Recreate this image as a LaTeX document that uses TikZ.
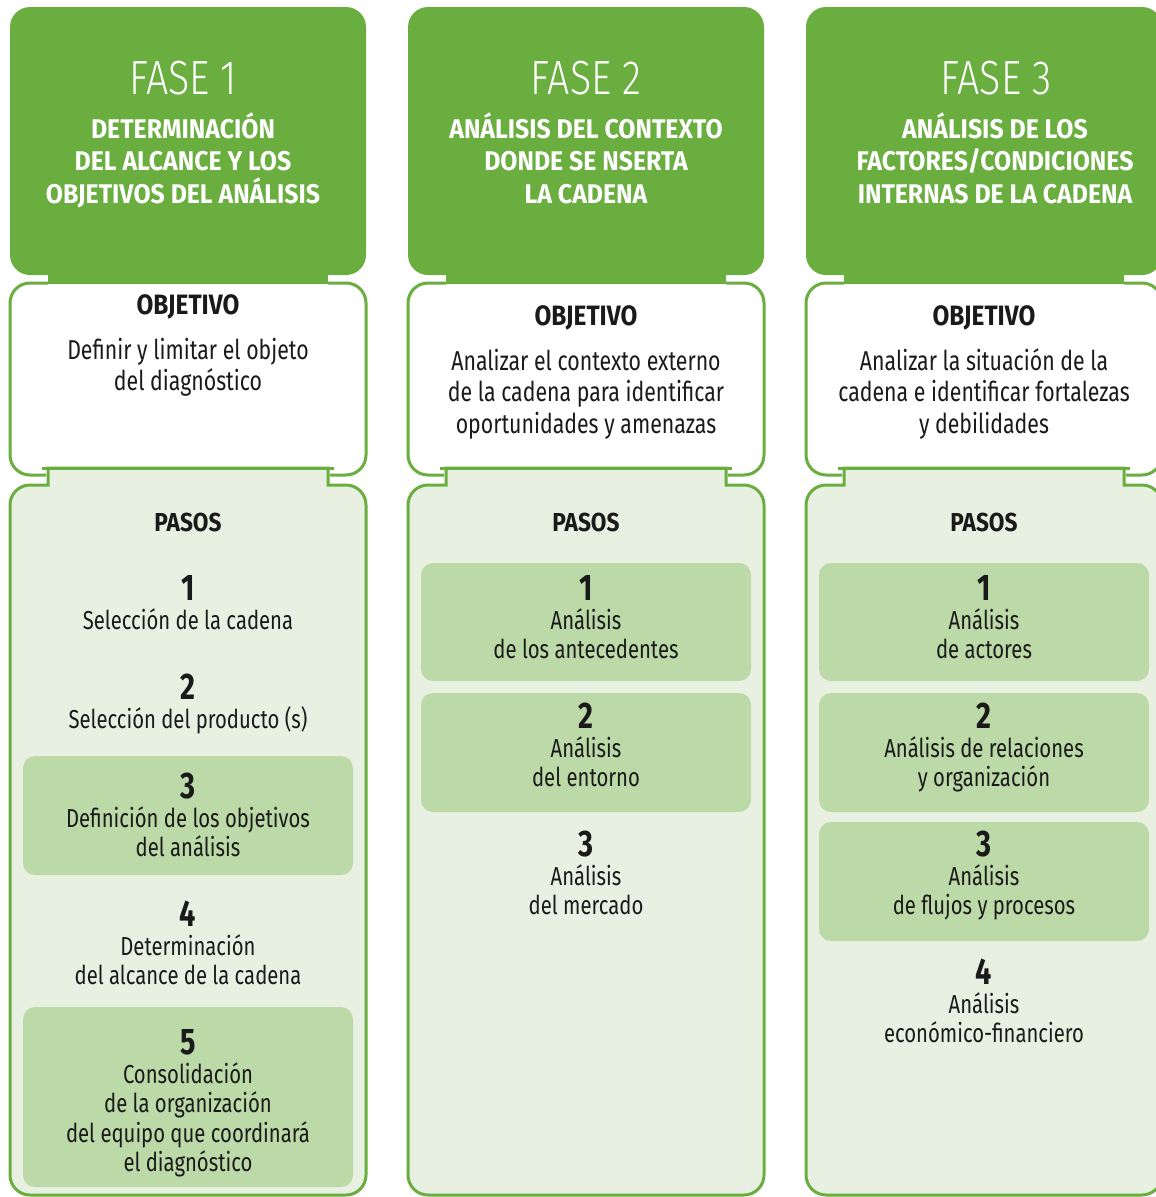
\documentclass[tikz,border=0pt]{standalone}
\usepackage{fontspec}
\setmainfont{Fira Sans}[FakeStretch=0.78]
\newfontfamily\lightf{Fira Sans Light}[FakeStretch=0.82]
\newfontfamily\hdf{Fira Sans}[FakeStretch=0.87]
\newfontfamily\subf{Fira Sans}[FakeStretch=0.92]
\definecolor{fgreen}{HTML}{69AE3F}
\definecolor{plight}{HTML}{E8F1E1}
\definecolor{sbox}{HTML}{BCD9A8}
\definecolor{ink}{HTML}{1A1A1A}
\tikzset{
  outl/.style={draw=fgreen, line width=3pt},
  fasetxt/.style={font=\lightf\fontsize{48}{48}\selectfont, text=white, inner sep=0pt, anchor=base},
  subtxt/.style={font=\subf\bfseries\fontsize{27}{32.5}\selectfont, text=white, align=center, inner sep=0pt, anchor=north},
  objhead/.style={font=\hdf\bfseries\fontsize{28}{32}\selectfont, text=ink, inner sep=0pt, anchor=base},
  pashead/.style={font=\hdf\bfseries\fontsize{26}{30}\selectfont, text=ink, inner sep=0pt, anchor=base},
  objtxt/.style={font=\fontsize{27.3}{31.5}\selectfont, text=ink, align=center, inner sep=0pt, anchor=north},
  numtxt/.style={font=\bfseries\fontsize{37}{37}\selectfont, text=ink, inner sep=0pt, anchor=base},
  steptxt/.style={font=\fontsize{26}{29.5}\selectfont, text=ink, align=center, inner sep=0pt, anchor=north},
  stepbox/.style={fill=sbox, rounded corners=12pt},
}
\newcommand\phasecol[1]{%
  \fill[fgreen, rounded corners=20pt] (#1,7) rectangle (#1+356,275);
  \fill[fgreen] (#1+38,268) rectangle (#1+318,284);
  \draw[outl] (#1+38,283) -- (#1+20,283) arc[start angle=270,end angle=180,radius=20]
     -- (#1,455) arc[start angle=180,end angle=90,radius=20] -- (#1+36,475);
  \draw[outl] (#1+318,283) -- (#1+336,283) arc[start angle=270,end angle=360,radius=20]
     -- (#1+356,455) arc[start angle=0,end angle=90,radius=20] -- (#1+320,475);
  \filldraw[outl, fill=plight] (#1+38,468) -- (#1+318,468) -- (#1+318,485) -- (#1+336,485)
     arc[start angle=270,end angle=360,radius=20] -- (#1+356,1175)
     arc[start angle=0,end angle=90,radius=20] -- (#1+20,1195)
     arc[start angle=90,end angle=180,radius=20] -- (#1,505)
     arc[start angle=180,end angle=270,radius=20] -- (#1+38,485) -- cycle;
  \draw[outl] (#1+32,468) -- (#1+324,468);
}
% #1 name, #2 x, #3 text baseline, #4 number, #5 text
\newcommand\stp[5]{%
  \node[numtxt] (#1n) at (#2,#3-29) {#4};
  \node[steptxt] (#1t) at (#2,#3-30) {\rule{0pt}{30pt}#5};
}
\begin{document}
\begin{tikzpicture}[x=1pt,y=-1pt]
\useasboundingbox (0,0) rectangle (1156,1197);
\clip (0,0) rectangle (1156,1197);
\fill[white] (0,0) rectangle (1156,1197);
\phasecol{10}
\phasecol{408}
\phasecol{806}
% highlighted step boxes
\fill[stepbox] (23,756) rectangle (353,875);
\fill[stepbox] (23,1007) rectangle (353,1187);
\fill[stepbox] (421,563) rectangle (751,681);
\fill[stepbox] (421,693) rectangle (751,812);
\fill[stepbox] (819,563) rectangle (1149,681);
\fill[stepbox] (819,693) rectangle (1149,812);
\fill[stepbox] (819,822) rectangle (1149,941);
% headers
\node[fasetxt] (f1) at (183,94) {FASE 1};
\node[fasetxt] (f2) at (586,94) {FASE 2};
\node[fasetxt] (f3) at (996,94) {FASE 3};
\node[subtxt] (s1) at (183,108) {\rule{0pt}{30pt}DETERMINACIÓN\\DEL ALCANCE Y LOS\\OBJETIVOS DEL ANÁLISIS};
\node[subtxt] (s2) at (586,108) {\rule{0pt}{30pt}ANÁLISIS DEL CONTEXTO\\DONDE SE NSERTA\\LA CADENA};
\node[subtxt] (s3) at (995,108) {\rule{0pt}{30pt}ANÁLISIS DE LOS\\FACTORES/CONDICIONES\\INTERNAS DE LA CADENA};
% objectives
\node[objhead] (o1) at (188,314) {OBJETIVO};
\node[objhead] (o2) at (586,325) {OBJETIVO};
\node[objhead] (o3) at (984,325) {OBJETIVO};
\node[objtxt] (ot1) at (188,329) {\rule{0pt}{30pt}Definir y limitar el objeto\\del diagnóstico};
\node[objtxt] (ot2) at (586,340) {\rule{0pt}{30pt}Analizar el contexto externo\\de la cadena para identificar\\oportunidades y amenazas};
\node[objtxt] (ot3) at (984,340) {\rule{0pt}{30pt}Analizar la situación de la\\cadena e identificar fortalezas\\y debilidades};
% pasos
\node[pashead] (p1) at (188,531) {PASOS};
\node[pashead] (p2) at (586,531) {PASOS};
\node[pashead] (p3) at (984,531) {PASOS};
% steps column 1
\stp{a1}{188}{629}{1}{Selección de la cadena}
\stp{a2}{188}{728}{2}{Selección del producto (s)}
\stp{a3}{188}{827}{3}{Definición de los objetivos\\del análisis}
\stp{a4}{188}{955}{4}{Determinación\\del alcance de la cadena}
\stp{a5}{188}{1083}{5}{Consolidación\\de la organización\\del equipo que coordinará\\el diagnóstico}
% steps column 2
\stp{b1}{586}{629}{1}{Análisis\\de los antecedentes}
\stp{b2}{586}{757}{2}{Análisis\\del entorno}
\stp{b3}{586}{885}{3}{Análisis\\del mercado}
% steps column 3
\stp{c1}{984}{629}{1}{Análisis\\de actores}
\stp{c2}{984}{757}{2}{Análisis de relaciones\\y organización}
\stp{c3}{984}{885}{3}{Análisis\\de flujos y procesos}
\stp{c4}{984}{1013}{4}{Análisis\\económico-financiero}
\end{tikzpicture}
\end{document}
